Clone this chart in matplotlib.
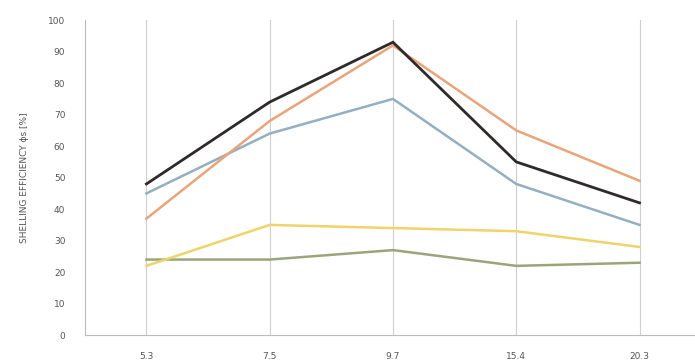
import matplotlib
matplotlib.use('Agg')
import matplotlib.pyplot as plt

# moisture content categories (x axis)
categories = ['5.3', '7.5', '9.7', '15.4', '20.3']

# shelling efficiency series
black_vals = [48, 74, 93, 55, 42]
orange_vals = [37, 68, 92, 65, 49]
blue_vals = [45, 64, 75, 48, 35]
yellow_vals = [22, 35, 34, 33, 28]
green_vals = [24, 24, 27, 22, 23]

series = [
    (green_vals, '#9aa57a'),
    (yellow_vals, '#f0d36a'),
    (blue_vals, '#94afc2'),
    (orange_vals, '#e9a47a'),
    (black_vals, '#2e2a2a'),
]

fig = plt.figure(figsize=(6.95, 3.6), dpi=100)
ax = fig.add_axes([0.122, 0.069, 0.878, 0.875])

x = list(range(len(categories)))
for vals, col in series:
    lw = 2.0 if col == '#2e2a2a' else 1.8
    ax.plot(x, vals, color=col, lw=lw, solid_joinstyle='miter')

for xi in x:
    ax.axvline(xi, color='#cfcfcf', lw=0.8, zorder=0)

ax.set_xlim(-0.5, 4.45)
ax.set_ylim(0, 100)
ax.set_yticks(range(0, 101, 10))
ax.set_xticks(x)
ax.set_xticklabels(categories)

ax.tick_params(axis='both', length=0, labelsize=6.5, colors='#555555')
ax.tick_params(axis='x', pad=12)
ax.tick_params(axis='y', pad=14)

for s in ['top', 'right']:
    ax.spines[s].set_visible(False)
ax.spines['left'].set_color('#bbbbbb')
ax.spines['bottom'].set_color('#bbbbbb')

ax.set_ylabel('SHELLING EFFICIENCY ϕs [%]', fontsize=6.5, color='#555555',
              labelpad=14)

fig.savefig('out.png', dpi=100)
